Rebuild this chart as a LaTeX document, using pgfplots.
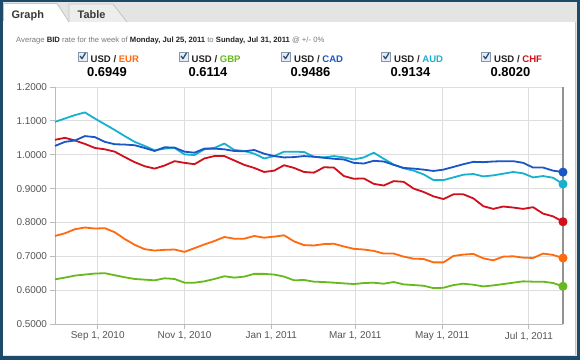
\documentclass[border=0pt]{standalone}
\usepackage{fontspec}
\setmainfont{Liberation Sans}
\usepackage{pgfplots}
\pgfplotsset{compat=1.18}
\usepackage{pgfplotstable}
\definecolor{navy}{HTML}{1D4A6B}
\definecolor{stripgrey}{HTML}{E4E4E4}
\definecolor{tabgrey}{HTML}{EDEDED}
\definecolor{bordergrey}{HTML}{C4C4C4}
\definecolor{subgrey}{HTML}{7A7A7A}
\definecolor{darktext}{HTML}{222222}
\definecolor{tickgrey}{HTML}{555555}
\definecolor{gridgrey}{HTML}{DDDDDD}
\definecolor{axisgrey}{HTML}{BBBBBB}
\definecolor{cadblue}{HTML}{1A56C8}
\definecolor{audcyan}{HTML}{17B0CF}
\definecolor{chfred}{HTML}{D0101C}
\definecolor{eurorange}{HTML}{FF6A0E}
\definecolor{gbpgreen}{HTML}{67B91E}
\definecolor{cbfill}{HTML}{E6ECF3}
\definecolor{cbborder}{HTML}{8797AA}
\definecolor{cbcheck}{HTML}{2D4C78}

% x = days since Sep 1, 2010 (weekly points)
\pgfplotstableread{
x    cad    aud    chf    eur    gbp
-30  1.026  1.097  1.044  0.760  0.632
-23  1.038  1.107  1.050  0.768  0.637
-16  1.042  1.117  1.042  0.780  0.643
-9   1.055  1.125  1.032  0.785  0.646
-2   1.052  1.107  1.020  0.782  0.649
5    1.038  1.090  1.016  0.783  0.650
12   1.031  1.073  1.009  0.771  0.644
19   1.030  1.055  0.993  0.751  0.638
26   1.028  1.038  0.978  0.734  0.633
33   1.020  1.026  0.966  0.721  0.631
40   1.011  1.013  0.959  0.717  0.629
47   1.022  1.018  0.968  0.719  0.635
54   1.021  1.020  0.981  0.720  0.633
61   1.009  1.001  0.976  0.713  0.622
68   1.006  0.999  0.972  0.724  0.622
75   1.018  1.016  0.989  0.735  0.626
82   1.018  1.020  0.996  0.745  0.633
89   1.016  1.033  0.996  0.757  0.641
96   1.011  1.014  0.983  0.752  0.637
103  1.010  1.011  0.970  0.752  0.640
110  1.014  1.003  0.961  0.760  0.648
117  1.003  0.989  0.949  0.755  0.648
124  0.996  0.996  0.953  0.758  0.646
131  0.992  1.009  0.969  0.762  0.640
138  0.993  1.009  0.961  0.744  0.629
145  0.996  1.008  0.949  0.733  0.630
152  0.994  0.994  0.947  0.732  0.625
159  0.991  0.992  0.963  0.736  0.624
166  0.988  0.996  0.962  0.737  0.622
173  0.986  0.992  0.937  0.729  0.620
180  0.976  0.986  0.929  0.722  0.618
187  0.974  0.992  0.930  0.720  0.621
194  0.982  1.006  0.914  0.716  0.622
201  0.980  0.988  0.909  0.708  0.619
208  0.970  0.971  0.922  0.708  0.624
215  0.961  0.960  0.920  0.699  0.617
222  0.959  0.953  0.900  0.693  0.615
229  0.956  0.942  0.890  0.692  0.613
236  0.952  0.925  0.877  0.682  0.606
243  0.956  0.925  0.869  0.682  0.607
250  0.964  0.933  0.883  0.701  0.615
257  0.972  0.941  0.883  0.705  0.619
264  0.979  0.943  0.871  0.707  0.616
271  0.978  0.936  0.848  0.694  0.611
278  0.980  0.939  0.840  0.688  0.614
285  0.981  0.944  0.847  0.699  0.618
292  0.981  0.949  0.844  0.700  0.622
299  0.976  0.945  0.840  0.696  0.626
306  0.962  0.933  0.845  0.695  0.625
313  0.962  0.937  0.826  0.708  0.625
320  0.953  0.932  0.818  0.704  0.621
327  0.9486 0.9134 0.8020 0.6949 0.6114
}\rates

\newcommand{\cbox}[1]{%
  \begin{scope}[shift={(#1)}]
    \draw[cbborder, fill=cbfill, line width=0.8] (0,0) rectangle (9,9);
    \draw[cbcheck, line width=1.3, line cap=round, line join=round] (2.2,4.8) -- (4,2.3) -- (7.3,7.8);
  \end{scope}}

\newcommand{\pair}[4]{% x of checkbox, currency, colour, value
  \cbox{#1,299}
  \node[anchor=base west, inner sep=0, font=\fontsize{9.6}{11}\selectfont\bfseries, text=darktext] at (#1+12.5,298) {USD / \textcolor{#3}{#2}};
  \node[anchor=base, inner sep=0, font=\fontsize{13}{15}\selectfont\bfseries, text=black] at (#1+29,283.5) {#4};
}

\begin{document}
\begin{tikzpicture}
\path[use as bounding box] (0bp,0bp) rectangle (580bp,360bp);
\begin{scope}[x=1bp, y=1bp]
% frame
\fill[navy] (0,0) rectangle (580,360);
\fill[stripgrey] (3,4) rectangle (577,358);
\fill[white] (3,5) rectangle (575,338);
\draw[bordergrey, line width=0.8] (575.4,5) -- (575.4,338);
% tabs
\filldraw[fill=tabgrey, draw=bordergrey, line width=0.8] (69,338) -- (69,356) -- (113,356) -- (127,338);
\filldraw[fill=white, draw=bordergrey, line width=0.8] (3.5,338) -- (3.5,356.5) -- (57,356.5) -- (69,338);
\fill[white] (3.5,337) rectangle (68,338.6);
\node[anchor=base west, inner sep=0, font=\fontsize{11}{13}\selectfont\bfseries, text=darktext!90] at (11.5,342) {Graph};
\node[anchor=base west, inner sep=0, font=\fontsize{11}{13}\selectfont\bfseries, text=darktext!90] at (77.5,342) {Table};
% subtitle
\node[anchor=base west, inner sep=0, font=\fontsize{7.7}{9}\selectfont, text=subgrey] at (16,317.3)
  {Average \textcolor{darktext}{\textbf{BID}} rate for the week of \textcolor{darktext}{\textbf{Monday, Jul 25, 2011}} to \textcolor{darktext}{\textbf{Sunday, Jul 31, 2011}} @ +/- 0\%};
% currency pairs
\pair{78}{EUR}{eurorange}{0.6949}
\pair{179}{GBP}{gbpgreen}{0.6114}
\pair{281.5}{CAD}{cadblue}{0.9486}
\pair{381.5}{AUD}{audcyan}{0.9134}
\pair{481.5}{CHF}{chfred}{0.8020}
\end{scope}

\begin{axis}[
  at={(55bp,36bp)}, anchor=south west,
  scale only axis, width=508bp, height=237bp,
  xmin=-30, xmax=327, ymin=0.5, ymax=1.2,
  axis x line*=bottom, axis y line*=left,
  axis line style={axisgrey, line width=0.9},
  xtick={0,61,122,181,242,303},
  xticklabels={{Sep 1, 2010},{Nov 1, 2010},{Jan 1, 2011},{Mar 1, 2011},{May 1, 2011},{Jul 1, 2011}},
  ytick={0.5,0.6,0.7,0.8,0.9,1.0,1.1,1.2},
  yticklabel style={/pgf/number format/.cd, fixed, fixed zerofill, precision=4, assume math mode=true},
  tick label style={font=\fontsize{10}{12}\selectfont, text=tickgrey},
  tick align=outside, major tick length=4.5bp,
  tick style={axisgrey, line width=0.9},
  xtick pos=bottom, ytick pos=left,
  grid=major, major grid style={gridgrey, line width=0.9},
  extra x ticks={327}, extra x tick labels={},
  extra x tick style={grid=major, major tick length=0pt, major grid style={gray!85, line width=1.3}},
  clip=false,
  every axis plot/.append style={line width=1.8bp, line join=round, mark=*, mark indices={52}, mark size=3.6bp},
]
\addplot[eurorange, mark options={fill=eurorange}] table[x=x, y=eur] {\rates};
\addplot[gbpgreen, mark options={fill=gbpgreen}] table[x=x, y=gbp] {\rates};
\addplot[chfred, mark options={fill=chfred}] table[x=x, y=chf] {\rates};
\addplot[audcyan, mark options={fill=audcyan}] table[x=x, y=aud] {\rates};
\addplot[cadblue, mark options={fill=cadblue}] table[x=x, y=cad] {\rates};
\end{axis}
\end{tikzpicture}
\end{document}
